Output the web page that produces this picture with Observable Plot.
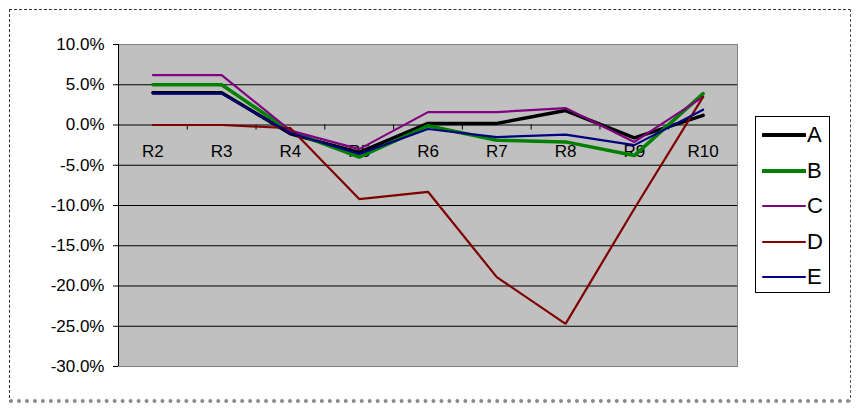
<!DOCTYPE html>
<html>
<head>
<meta charset="utf-8">
<script src="https://cdn.jsdelivr.net/npm/d3@7"></script>
<script src="https://cdn.jsdelivr.net/npm/@observablehq/plot@0.6"></script>
<style>
  html, body { margin: 0; padding: 0; background: #fff; }
  #wrap { position: relative; width: 862px; height: 413px; overflow: hidden; font-family: Arial, "Liberation Sans", sans-serif; }
  #edge { position: absolute; left: 9px; top: 9px; width: 842px; height: 394px;
          border-top: 1px dashed #333; border-left: 1px dashed #333; border-right: 1px dashed #555;
          border-bottom: 4px dotted #8a8a8a; box-sizing: border-box; }
  #chart { position: absolute; left: 0; top: 0; }
  #legend { position: absolute; left: 755px; top: 116px; width: 75px; height: 177px; box-sizing: border-box;
            border: 1px solid #000; background: #fff; }
  .item { position: absolute; left: 0; height: 24px; width: 75px; }
  .item svg { position: absolute; left: 6px; top: 0; }
  .item span { position: absolute; left: 51px; top: 0; font-size: 22px; line-height: 24px; color: #000; }
</style>
</head>
<body>
<div id="wrap">
  <div id="edge"></div>
  <div id="chart"></div>
  <div id="legend"></div>
</div>
<script>
const categories = ["R2", "R3", "R4", "R5", "R6", "R7", "R8", "R9", "R10"];
const seriesNames = ["A", "B", "C", "D", "E"];
const seriesA = [0.040, 0.040, -0.011, -0.034, 0.002, 0.002, 0.018, -0.016, 0.012];
const seriesB = [0.050, 0.050, -0.008, -0.040, -0.001, -0.019, -0.021, -0.038, 0.039];
const seriesC = [0.062, 0.062, -0.007, -0.030, 0.016, 0.016, 0.021, -0.021, 0.035];
const seriesD = [0.000, 0.000, -0.004, -0.092, -0.083, -0.189, -0.247, -0.104, 0.035];
const seriesE = [0.039, 0.039, -0.010, -0.036, -0.005, -0.015, -0.012, -0.025, 0.019];
const yTicks = [0.10, 0.05, 0.00, -0.05, -0.10, -0.15, -0.20, -0.25, -0.30];

const seriesValues = [seriesA, seriesB, seriesC, seriesD, seriesE];
const colors = {A: "#000000", B: "#008000", C: "#800080", D: "#800000", E: "#000080"};
const widths = {A: 3.5, B: 3.5, C: 2.2, D: 2.2, E: 2.2};

const data = seriesNames.flatMap((s, si) =>
  categories.map((c, i) => ({series: s, i, cat: c, value: seriesValues[si][i]})));
const idx = categories.map((c, i) => i);
const bounds = categories.slice(1).map((c, i) => i + 0.5);
const fmt = d => (d < 0 ? "-" : "") + Math.abs(d * 100).toFixed(1) + "%";

const H = 413, mT = 44, mB = 47;
const tickLen = (0.40 / (H - mT - mB)) * 5;

const chart = Plot.plot({
  width: 862,
  height: H,
  marginLeft: 118,
  marginRight: 125,
  marginTop: mT,
  marginBottom: mB,
  style: {background: "transparent", fontFamily: "Arial, 'Liberation Sans', sans-serif", color: "#000"},
  x: {domain: [-0.5, 8.5], axis: null, label: null},
  y: {domain: [-0.30, 0.10], axis: null, label: null},
  marks: [
    Plot.frame({fill: "#c0c0c0"}),
    Plot.ruleY(yTicks.slice(1, -1), {stroke: "#000", strokeWidth: 1}),
    Plot.frame({stroke: "#808080"}),
    Plot.ruleX([-0.5], {stroke: "#000", strokeWidth: 1}),
    Plot.axisY(yTicks, {anchor: "left", label: null, tickSize: 5, tickPadding: 9, tickFormat: fmt, fontSize: 17, stroke: "#000"}),
    Plot.ruleX(bounds, {x: d => d, y1: 0, y2: -tickLen, stroke: "#000"}),
    Plot.text(idx, {x: d => d, y: 0, dy: 27, text: d => categories[d], fontSize: 17, fill: "#000"}),
    ...seriesNames.map(s => Plot.line(data.filter(d => d.series === s), {
      x: "i", y: "value", stroke: colors[s], strokeWidth: widths[s], strokeLinejoin: "miter"
    }))
  ]
});
document.getElementById("chart").appendChild(chart);

const legend = document.getElementById("legend");
seriesNames.forEach((s, k) => {
  const item = document.createElement("div");
  item.className = "item";
  item.style.top = (6 + k * 35.5) + "px";
  const lw = s === "A" || s === "B" ? 4 : 2;
  item.innerHTML = `<svg width="44" height="24"><line x1="1" x2="43" y1="12" y2="12" stroke="${colors[s]}" stroke-width="${lw}" stroke-linecap="round"/></svg><span>${s}</span>`;
  legend.appendChild(item);
});
</script>
</body>
</html>
